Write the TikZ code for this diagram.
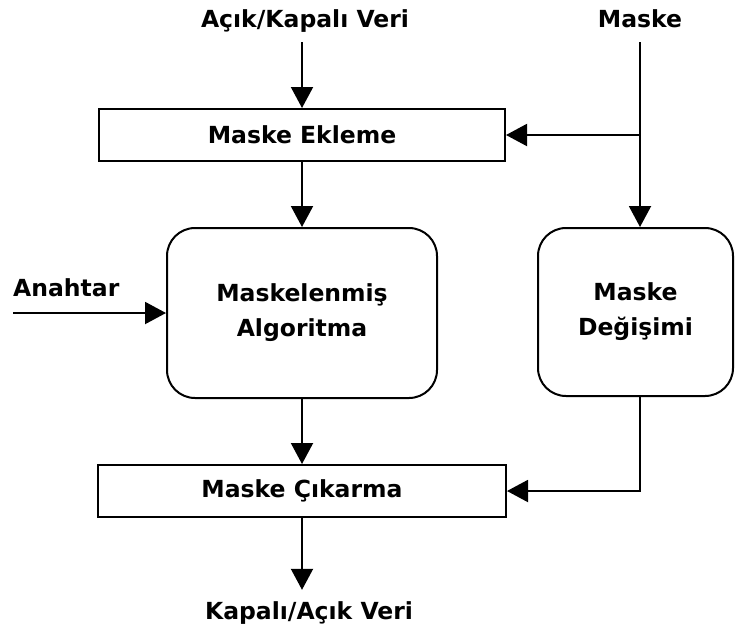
\documentclass[tikz,border=0pt]{standalone}
\usepackage{fontspec}
\setmainfont{DejaVu Sans}
\usetikzlibrary{arrows.meta}

\tikzset{
  base/.style={font=\fontsize{23.5}{35}\selectfont\bfseries},
  lbl/.style={base, inner sep=0pt, text height=17pt, text depth=5pt},
  flatbox/.style={base, draw, line width=2pt, minimum height=52pt, inner sep=0pt},
  roundbox/.style={base, draw, line width=2pt, rounded corners=28pt, align=center, inner sep=0pt},
  arr/.style={line width=2pt, -{Triangle[length=21pt,width=22pt]}},
}

\begin{document}
\begin{tikzpicture}[x=1pt, y=-1pt]
  \useasboundingbox (0,0) rectangle (735,630);

  % external labels
  \node[lbl, anchor=base] (in)   at (305,27)  {Açık/Kapalı Veri};
  \node[lbl, anchor=base] (mask) at (640,27)  {Maske};
  \node[lbl, anchor=base west] (key) at (13,296) {Anahtar};
  \node[lbl, anchor=base] (out)  at (309,619) {Kapalı/Açık Veri};

  % processing blocks
  \node[flatbox, minimum width=406pt] (ekle) at (302,135) {Maske Ekleme};
  \node[roundbox, minimum width=270pt, minimum height=170pt] (algo) at (302,313)
       {Maskelenmiş\\Algoritma};
  \node[roundbox, minimum width=195pt, minimum height=168pt] (degis) at (635.5,312)
       {Maske\\Değişimi};
  \node[flatbox, minimum width=408pt] (cikar) at (302,491) {Maske Çıkarma};

  % data path
  \draw[arr] ([yshift=-10pt]in.south -| ekle.north) -- (ekle.north);
  \draw[arr] (ekle.south) -- (algo.north);
  \draw[arr] (algo.south) -- (cikar.north);
  \draw[arr] (cikar.south) -- ([yshift=12pt]cikar.south |- out.north);

  % key input
  \draw[arr] (key.south west |- algo.west) -- (algo.west);

  % mask path
  \draw[arr] ([yshift=-10pt]mask.south) -- (mask.south |- degis.north);
  \draw[arr] (mask.south |- ekle.east) -- (ekle.east);
  \draw[arr] (mask.south |- degis.south) -- (mask.south |- cikar.east) -- (cikar.east);
\end{tikzpicture}
\end{document}
